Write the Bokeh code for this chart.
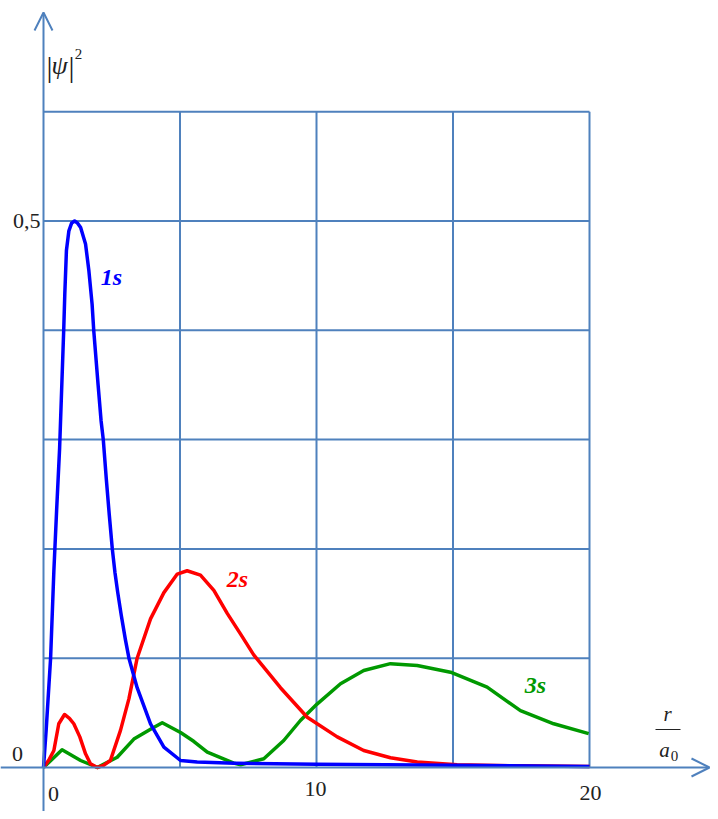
from bokeh.plotting import figure
from bokeh.models import Arrow, OpenHead, Label
from bokeh.embed import file_html
from bokeh.resources import INLINE

# ---- data ----
x_grid_ticks = [0, 5, 10, 15, 20]
y_grid_ticks = [0, 0.1, 0.2, 0.3, 0.4, 0.5, 0.6]

r_1s = [0, 0.1, 0.26, 0.38, 0.48, 0.59, 0.74, 0.78, 0.84, 0.93, 1.03, 1.14, 1.25, 1.36, 1.54, 1.66,
        1.78, 1.84, 2.0, 2.11, 2.19, 2.3, 2.41, 2.52, 2.62, 2.72, 2.85, 3.0, 3.13, 3.43, 3.92, 4.41,
        5.02, 5.63, 7.0, 10.0, 15.0, 20.0]
p_1s = [0, 0.035, 0.10, 0.18, 0.235, 0.292, 0.40, 0.433, 0.473, 0.491, 0.498, 0.50, 0.498, 0.494, 0.479, 0.455,
        0.424, 0.40, 0.35, 0.317, 0.30, 0.264, 0.231, 0.200, 0.178, 0.160, 0.139, 0.117, 0.10, 0.073, 0.040,
        0.0186, 0.0064, 0.005, 0.004, 0.003, 0.002, 0.001]

r_2s = [0, 0.2, 0.38, 0.56, 0.77, 0.95, 1.11, 1.33, 1.54, 1.72, 1.97, 2.2, 2.45, 2.82, 3.13, 3.43,
        3.92, 4.41, 4.9, 5.26, 5.75, 6.24, 6.73, 7.22, 7.7, 8.68, 9.66, 10.76, 11.73, 12.71,
        13.69, 15.15, 17.5, 20.0]
p_2s = [0, 0.007, 0.0156, 0.04, 0.0485, 0.045, 0.04, 0.028, 0.0125, 0.0034, 0.0, 0.002, 0.0064, 0.034, 0.063, 0.10,
        0.136, 0.160, 0.177, 0.180, 0.176, 0.162, 0.141, 0.122, 0.103, 0.073, 0.046, 0.028, 0.0156, 0.0089,
        0.005, 0.0025, 0.0015, 0.001]

r_3s = [0, 0.68, 1.36, 1.97, 2.7, 3.31, 3.92, 4.35, 5.02, 5.5, 6.0, 6.97, 7.22, 8.07, 8.8, 9.41, 10.02,
        10.88, 11.73, 12.71, 13.69, 14.91, 16.25, 17.47, 18.69, 19.97]
p_3s = [0, 0.0162, 0.0064, 0.0, 0.0094, 0.026, 0.035, 0.041, 0.032, 0.024, 0.014, 0.004, 0.0025, 0.008, 0.0247,
        0.043, 0.058, 0.0766, 0.0887, 0.095, 0.0933, 0.0872, 0.0735, 0.052, 0.040, 0.031]

x_tick_labels = ["0", "10", "20"]
x_tick_values = [0, 10, 20]

# ---- geometry (pixel mapping: x_px = 43 + 27.3*x, y_px = 767 - 1093*y) ----
W, H = 710, 811
SX, SY = 27.3, 1093.0
OX, OY = 43, 767
X0, X1 = -OX / SX, (W - OX) / SX
Y0, Y1 = -(H - OY) / SY, OY / SY


def dx(px):
    return (px - OX) / SX


def dy(py):
    return (OY - py) / SY


p = figure(width=W, height=H, x_range=(X0, X1), y_range=(Y0, Y1),
           x_axis_location=None, y_axis_location=None, toolbar_location=None,
           output_backend="svg", min_border=0, outline_line_color=None)
p.grid.visible = False

GRID = "#4F81BD"
SERIF = "Liberation Serif"

# grid
gx_max = x_grid_ticks[-1]
gy_max = y_grid_ticks[-1]
for xv in x_grid_ticks[1:]:
    p.segment(x0=[xv], y0=[0], x1=[xv], y1=[gy_max], line_color=GRID, line_width=2)
for yv in y_grid_ticks[1:]:
    p.segment(x0=[0], y0=[yv], x1=[gx_max], y1=[yv], line_color=GRID, line_width=2)

# axes with arrows
p.add_layout(Arrow(end=OpenHead(size=18, line_color=GRID, line_width=2),
                   x_start=X0, y_start=0, x_end=dx(709), y_end=0,
                   line_color=GRID, line_width=2))
p.add_layout(Arrow(end=OpenHead(size=18, line_color=GRID, line_width=2),
                   x_start=0, y_start=Y0, x_end=0, y_end=dy(12),
                   line_color=GRID, line_width=2))

# curves
p.line(r_3s, p_3s, line_color="#009900", line_width=3.5, line_join="round")
p.line(r_2s, p_2s, line_color="#FF0000", line_width=3.5, line_join="round")
p.line(r_1s, p_1s, line_color="#0000FF", line_width=3.5, line_join="round")


def lab(x, y, text, size="22px", style="normal", color="#222222", align="center", baseline="middle"):
    p.add_layout(Label(x=x, y=y, text=text, text_font=SERIF, text_font_size=size,
                       text_font_style=style, text_color=color, text_align=align,
                       text_baseline=baseline))


# tick labels
lab(dx(40), 0.5, "0,5", align="right")
lab(dx(17), dy(753), "0")
tick_py = [793, 788, 792]
tick_off = [10, -1, 1]
for v, t, ty, off in zip(x_tick_values, x_tick_labels, tick_py, tick_off):
    lab(v + off / SX, dy(ty), t)

# curve labels
lab(dx(111), dy(276), "1s", size="24px", style="bold italic", color="#0000FF")
lab(dx(237), dy(578), "2s", size="24px", style="bold italic", color="#FF0000")
lab(dx(535), dy(684), "3s", size="24px", style="bold italic", color="#009900")

# y title |psi|^2
lab(dx(49), dy(66), "|", size="30px")
lab(dx(59), dy(65), "ψ", size="26px", style="italic")
lab(dx(71), dy(66), "|", size="30px")
lab(dx(78), dy(53), "2", size="15px")

# x title r / a0
lab(dx(667), dy(713), "r", size="21px", style="italic")
p.segment(x0=[dx(655)], y0=[dy(729)], x1=[dx(680)], y1=[dy(729)],
          line_color="#222222", line_width=1)
lab(dx(664), dy(749), "a", size="21px", style="italic")
lab(dx(674), dy(755), "0", size="15px")

open("out.html", "w").write(file_html(p, INLINE))
